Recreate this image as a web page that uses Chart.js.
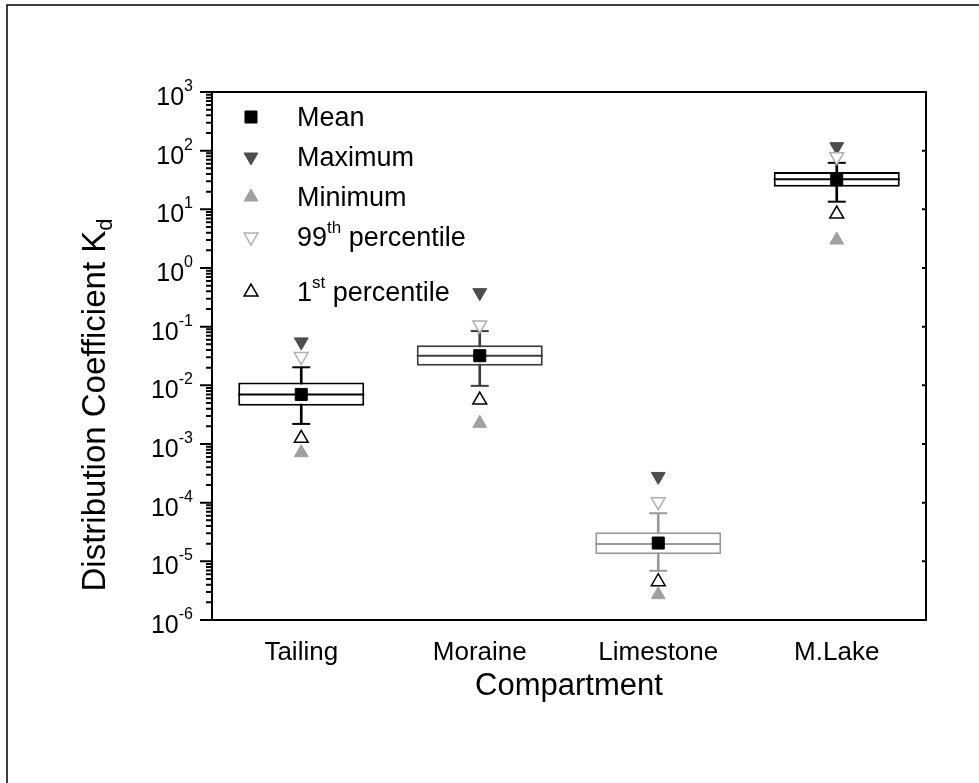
<!DOCTYPE html>
<html>
<head>
<meta charset="utf-8">
<title>Distribution Coefficient Kd</title>
<script src="https://cdn.jsdelivr.net/npm/chart.js@4/dist/chart.umd.min.js"></script>
<style>
    html, body { margin: 0; padding: 0; background: #fff; }
    canvas { display: block; }
</style>
</head>
<body>
<canvas id="chart-kd" width="979" height="783"></canvas>
<script>
var compartments = ['Tailing', 'Moraine', 'Limestone', 'M.Lake'];

// box statistics per compartment
var kdMean = [7.0e-3, 3.2e-2, 2.05e-5, 32];
var kdMedian = [7.0e-3, 3.2e-2, 1.98e-5, 32.5];
var kdQ1 = [4.5e-3, 2.15e-2, 1.32e-5, 24.3];
var kdQ3 = [1.12e-2, 4.8e-2, 3.13e-5, 43.3];
var kdWhiskerLow = [2.2e-3, 9.8e-3, 6.9e-6, 13.5];
var kdWhiskerHigh = [2.03e-2, 8.4e-2, 6.6e-5, 62];
var kdMax = [5.5e-2, 0.38, 2.8e-4, 117];
var kdMin = [7.1e-4, 2.25e-3, 2.7e-6, 3.0];
var kdP99 = [3.1e-2, 0.107, 1.04e-4, 79];
var kdP1 = [1.25e-3, 5.6e-3, 4.5e-6, 8.3];

var yTickExponents = [3, 2, 1, 0, -1, -2, -3, -4, -5, -6];
var boxColors = ['#000000', '#3c3c3c', '#9a9a9a', '#000000'];

// legend text: base, superscript, rest
var legendEntries = [
    ['Mean', '', ''],
    ['Maximum', '', ''],
    ['Minimum', '', ''],
    ['99', 'th', ' percentile'],
    ['1', 'st', ' percentile']
];

var FONT = "'Liberation Sans', Arial, Helvetica, sans-serif";

function markerSet(label, values, style, rotation, fill, stroke, order) {
    return {
        type: 'line',
        label: label,
        data: values,
        showLine: false,
        pointStyle: style,
        pointRotation: rotation,
        pointRadius: style === 'rect' ? 8.5 : 8,
        pointBackgroundColor: fill,
        pointBorderColor: stroke,
        pointBorderWidth: fill === '#ffffff' ? 1.5 : 1,
        order: order
    };
}

function capSet(label, values) {
    return {
        type: 'line',
        label: label,
        data: values,
        showLine: false,
        pointStyle: 'line',
        pointRadius: 9,
        pointBorderColor: boxColors,
        pointBorderWidth: 2,
        order: 3
    };
}

var datasets = [
    markerSet('Mean', kdMean, 'rect', 0, '#000000', '#000000', 0),
    markerSet('Maximum', kdMax, 'triangle', 180, '#4d4d4d', '#4d4d4d', 2),
    markerSet('Minimum', kdMin, 'triangle', 0, '#a0a0a0', '#a0a0a0', 2),
    markerSet('99th percentile', kdP99, 'triangle', 180, '#ffffff', '#b0b0b0', 1),
    markerSet('1st percentile', kdP1, 'triangle', 0, '#ffffff', '#000000', 1),
    capSet('Whisker high', kdWhiskerHigh),
    capSet('Whisker low', kdWhiskerLow),
    {
        type: 'bar',
        label: 'Box',
        data: kdQ1.map(function (q, i) { return [q, kdQ3[i]]; }),
        backgroundColor: '#ffffff',
        borderColor: boxColors,
        borderWidth: 2,
        borderSkipped: false,
        barPercentage: 0.706,
        categoryPercentage: 1,
        grouped: false,
        order: 4
    },
    {
        type: 'bar',
        label: 'Whisker',
        data: kdWhiskerLow.map(function (w, i) { return [w, kdWhiskerHigh[i]]; }),
        backgroundColor: boxColors,
        borderWidth: 0,
        barThickness: 2,
        grouped: false,
        order: 5
    }
];

function drawSup(ctx, x, y, base, sup, rest, size) {
    // text with a raised part, baseline at y, left aligned
    var supSize = Math.round(size * 0.62);
    ctx.textAlign = 'left';
    ctx.textBaseline = 'alphabetic';
    ctx.font = size + 'px ' + FONT;
    var wBase = ctx.measureText(base).width;
    ctx.fillText(base, x, y);
    ctx.font = supSize + 'px ' + FONT;
    var wSup = ctx.measureText(sup).width;
    ctx.fillText(sup, x + wBase, y - size * 0.5);
    ctx.font = size + 'px ' + FONT;
    ctx.fillText(rest, x + wBase + wSup, y);
}

var kdFramePlugin = {
    id: 'kdFrame',
    afterDatasetDraw: function (chart, args) {
        var ds = chart.data.datasets[args.index];
        if (ds.label !== 'Box') return;
        // median line across each box
        var ctx = chart.ctx;
        var y = chart.scales.y;
        ctx.save();
        ctx.lineWidth = 2;
        args.meta.data.forEach(function (bar, i) {
            var py = y.getPixelForValue(kdMedian[i]);
            ctx.strokeStyle = boxColors[i];
            ctx.beginPath();
            ctx.moveTo(bar.x - bar.width / 2, py);
            ctx.lineTo(bar.x + bar.width / 2, py);
            ctx.stroke();
        });
        ctx.restore();
    },
    afterDraw: function (chart) {
        var ctx = chart.ctx;
        var a = chart.chartArea;
        var x = chart.scales.x;
        var y = chart.scales.y;
        ctx.save();

        // outer frame (left and top only)
        ctx.strokeStyle = '#000';
        ctx.lineWidth = 1.5;
        ctx.beginPath();
        ctx.moveTo(7, 783);
        ctx.lineTo(7, 5);
        ctx.lineTo(979, 5);
        ctx.stroke();

        // plot box
        ctx.lineWidth = 2;
        ctx.strokeRect(a.left, a.top, a.right - a.left, a.bottom - a.top);

        // y ticks: majors and minors outside left, majors inside right
        ctx.beginPath();
        yTickExponents.forEach(function (e) {
            var p = y.getPixelForValue(Math.pow(10, e));
            ctx.moveTo(a.left - 12, p);
            ctx.lineTo(a.left, p);
            ctx.moveTo(a.right - 4, p);
            ctx.lineTo(a.right, p);
            if (e < 3) {
                for (var k = 2; k <= 9; k++) {
                    var pm = y.getPixelForValue(k * Math.pow(10, e));
                    ctx.moveTo(a.left - 6, pm);
                    ctx.lineTo(a.left, pm);
                }
            }
        });
        ctx.stroke();

        // y tick labels 10^n
        ctx.fillStyle = '#000';
        ctx.textBaseline = 'alphabetic';
        yTickExponents.forEach(function (e) {
            var p = y.getPixelForValue(Math.pow(10, e));
            ctx.font = '16px ' + FONT;
            var wExp = ctx.measureText(String(e)).width;
            ctx.textAlign = 'left';
            ctx.fillText(String(e), a.left - 19 - wExp, p - 1);
            ctx.font = '25px ' + FONT;
            ctx.textAlign = 'right';
            ctx.fillText('10', a.left - 19 - wExp, p + 13);
        });

        // category labels
        ctx.textAlign = 'center';
        ctx.font = '26px ' + FONT;
        compartments.forEach(function (c, i) {
            ctx.fillText(c, x.getPixelForValue(i), 660);
        });

        // axis titles
        ctx.font = '31px ' + FONT;
        ctx.fillText('Compartment', (a.left + a.right) / 2, 695);

        ctx.save();
        ctx.translate(105, 405);
        ctx.rotate(-Math.PI / 2);
        ctx.font = '33px ' + FONT;
        var main = 'Distribution Coefficient K';
        var wMain = ctx.measureText(main).width;
        ctx.font = '22px ' + FONT;
        var wSub = ctx.measureText('d').width;
        var x0 = -(wMain + wSub) / 2;
        ctx.textAlign = 'left';
        ctx.font = '33px ' + FONT;
        ctx.fillText(main, x0, 0);
        ctx.font = '22px ' + FONT;
        ctx.fillText('d', x0 + wMain, 7);
        ctx.restore();

        // legend
        var rows = [117, 157, 197, 237, 292];
        legendEntries.forEach(function (entry, i) {
            var ds = chart.data.datasets[i];
            ctx.fillStyle = ds.pointBackgroundColor;
            ctx.strokeStyle = ds.pointBorderColor;
            ctx.lineWidth = ds.pointBorderWidth;
            Chart.helpers.drawPoint(ctx, {
                pointStyle: ds.pointStyle,
                rotation: ds.pointRotation,
                radius: ds.pointRadius,
                borderWidth: ds.pointBorderWidth
            }, 251, rows[i]);
            ctx.fillStyle = '#000';
            drawSup(ctx, 297, rows[i] + 9, entry[0], entry[1], entry[2], 27);
        });

        ctx.restore();
    }
};

var kdChart = new Chart(document.getElementById('chart-kd').getContext('2d'), {
    type: 'bar',
    data: {
        labels: compartments,
        datasets: datasets
    },
    options: {
        responsive: false,
        animation: false,
        layout: {
            padding: { left: 212, top: 92, right: 53, bottom: 163 }
        },
        plugins: {
            legend: { display: false },
            tooltip: { enabled: false }
        },
        scales: {
            x: {
                type: 'category',
                display: false,
                offset: true
            },
            y: {
                type: 'logarithmic',
                display: false,
                min: 1e-6,
                max: 1e3
            }
        }
    },
    plugins: [kdFramePlugin]
});
</script>
</body>
</html>
